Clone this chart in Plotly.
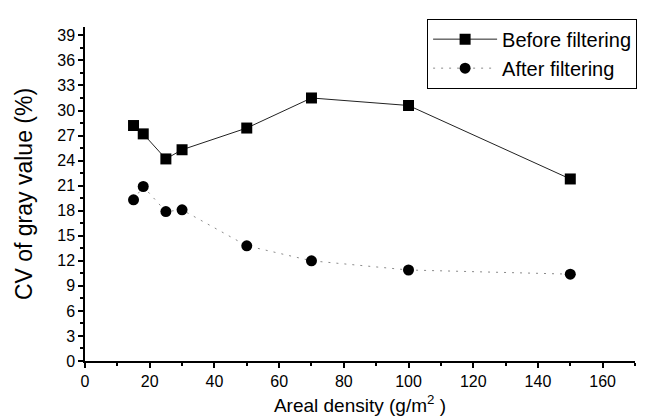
import plotly.graph_objects as go

areal_density = [15, 18, 25, 30, 50, 70, 100, 150]
before_filtering = [28.2, 27.2, 24.2, 25.3, 27.9, 31.5, 30.6, 21.8]
after_filtering = [19.3, 20.9, 17.9, 18.1, 13.8, 12.0, 10.9, 10.4]
y_ticks = list(range(0, 40, 3))
x_ticks = list(range(0, 161, 20))

FONT = "Liberation Sans, Arial, sans-serif"

fig = go.Figure()
fig.add_trace(go.Scatter(
    x=areal_density, y=before_filtering, name="Before filtering",
    mode="lines+markers",
    line=dict(color="#222222", width=1),
    marker=dict(symbol="square", size=11, color="black"),
))
fig.add_trace(go.Scatter(
    x=areal_density, y=after_filtering, name="After filtering",
    mode="lines+markers",
    line=dict(color="#8a8a8a", width=1, dash="2px,6px"),
    marker=dict(symbol="circle", size=11, color="black"),
))

# page body has an 8px margin, so the figure is sized to fit the remaining window
fig.update_layout(
    width=641, height=411,
    margin=dict(l=77, r=14, t=11, b=58),
    paper_bgcolor="white", plot_bgcolor="white",
    font=dict(family=FONT, color="black", size=16),
    showlegend=True,
    legend=dict(
        x=0.622, y=1.025, xanchor="left", yanchor="top",
        bgcolor="white", bordercolor="black", borderwidth=1,
        font=dict(size=20), itemwidth=64,
        tracegroupgap=0,
    ),
    xaxis=dict(
        range=[0, 170], tickvals=x_ticks, ticktext=[str(v) for v in x_ticks],
        showline=True, linecolor="black", linewidth=1.5,
        ticks="outside", ticklen=5, tickwidth=1.5, tickcolor="black",
        minor=dict(dtick=10, tick0=0, ticks="outside", ticklen=3, tickcolor="black"),
        showgrid=False, zeroline=False, automargin=False,
        tickfont=dict(size=16),
        title=dict(text="Areal density (g/m<sup>2</sup> )", font=dict(size=19), standoff=10),
    ),
    yaxis=dict(
        range=[0, 40], tickvals=y_ticks, ticktext=[str(v) for v in y_ticks],
        showline=True, linecolor="black", linewidth=1.5,
        ticks="outside", ticklen=5, tickwidth=1.5, tickcolor="black",
        minor=dict(dtick=1.5, tick0=0, ticks="outside", ticklen=3, tickcolor="black"),
        showgrid=False, zeroline=False, automargin=False,
        tickfont=dict(size=16),
        title=dict(text="CV of gray value (%)", font=dict(size=23), standoff=18),
    ),
)

fig.write_html("out.html")
